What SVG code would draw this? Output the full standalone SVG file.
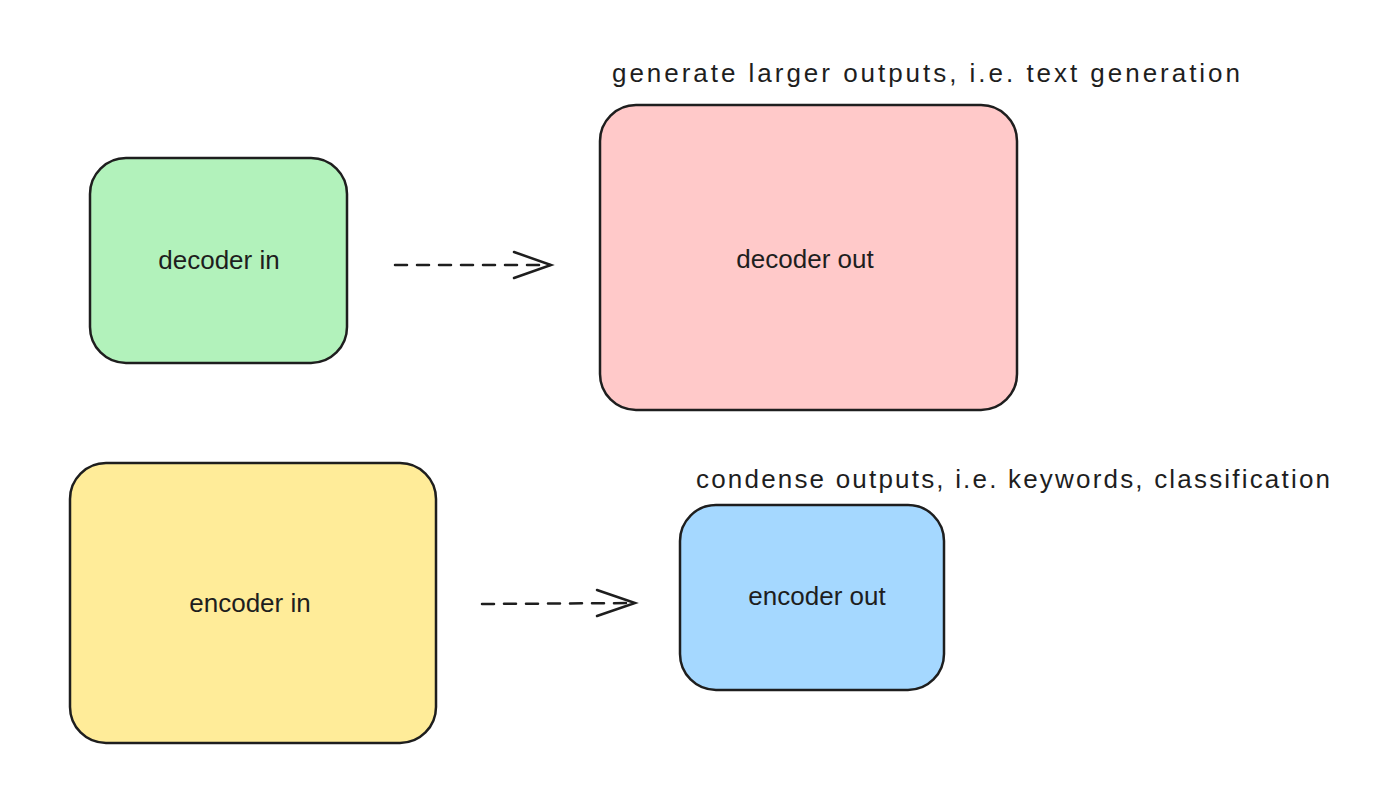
<svg xmlns="http://www.w3.org/2000/svg" width="1400" height="809" viewBox="0 0 1400 809">
<style>
.box{stroke:#1e1e1e;stroke-width:2.5}
.t{font-family:"Liberation Sans",Arial,sans-serif;font-size:26px;fill:#1e1e1e}
.c{stroke:#1e1e1e;stroke-width:2.5;fill:none;stroke-linecap:round}
.d{stroke-dasharray:12 10}
</style>
<rect width="1400" height="809" fill="#fff"/>
<g id="decoder-in"><rect class="box" x="90" y="158" width="257" height="205" rx="36" fill="#b2f2bb"/><text class="t" x="219" y="269" text-anchor="middle">decoder in</text></g>
<g id="decoder-out"><rect class="box" x="600" y="105" width="417" height="305" rx="36" fill="#ffc9c9"/><text class="t" x="805" y="268" text-anchor="middle">decoder out</text></g>
<g id="encoder-in"><rect class="box" x="70" y="463" width="366" height="280" rx="36" fill="#ffec99"/><text class="t" x="250" y="612" text-anchor="middle">encoder in</text></g>
<g id="encoder-out"><rect class="box" x="680" y="505" width="264" height="185" rx="36" fill="#a5d8ff"/><text class="t" x="817" y="605" text-anchor="middle">encoder out</text></g>
<g id="label-top"><text class="t" x="612" y="82" textLength="628">generate larger outputs, i.e. text generation</text></g>
<g id="label-bottom"><text class="t" x="696" y="488" textLength="634">condense outputs, i.e. keywords, classification</text></g>
<g id="connectors">
<path class="c d" d="M395 265 L550 265"/>
<path class="c" d="M514 252 L551 265 L514 278"/>
<path class="c d" d="M482 604 L634 603"/>
<path class="c" d="M597 590 L635 603 L597 616"/>
</g>
</svg>
